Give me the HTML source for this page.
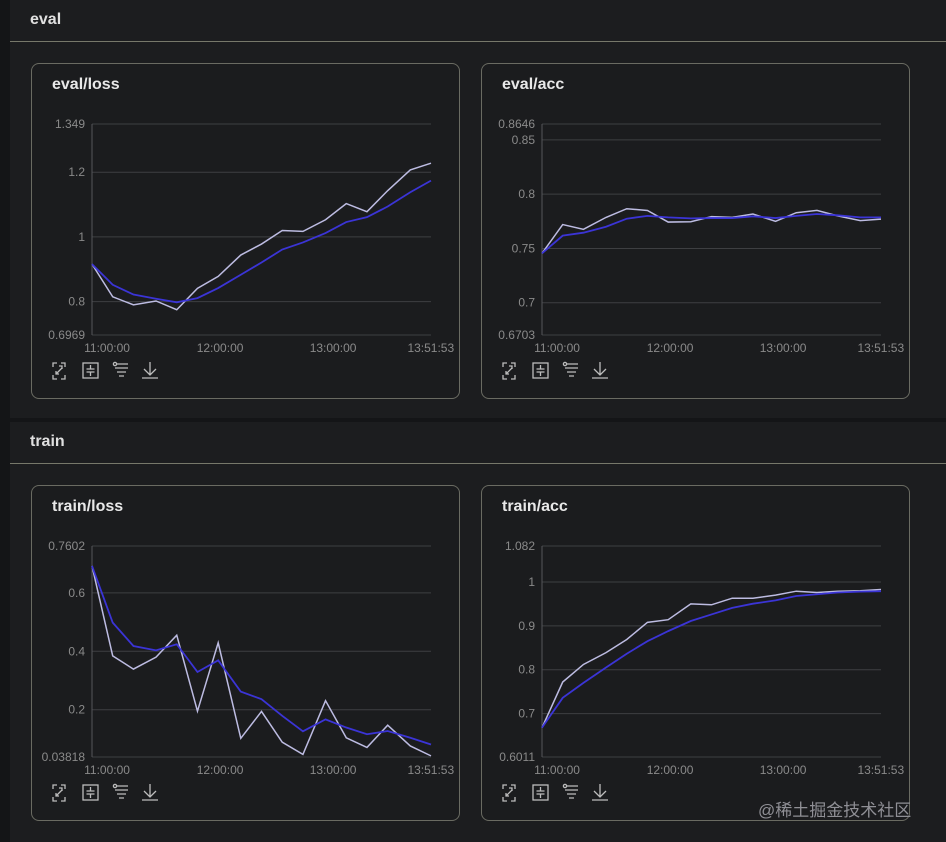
<!DOCTYPE html>
<html><head><meta charset="utf-8">
<style>
html,body{margin:0;padding:0;background:#141517;width:946px;height:842px;overflow:hidden;font-family:"Liberation Sans","Noto Sans CJK SC",sans-serif;}
.section{position:absolute;left:10px;width:936px;background:#1c1d1f;}
.sec-title{position:absolute;left:20px;color:#e0e0e0;font-weight:bold;font-size:16px;}
.sec-line{position:absolute;left:0;width:936px;height:1px;background:#77786a;}
.card{position:absolute;width:427px;height:334px;border:1px solid #6a6b62;border-radius:8px;background:#1b1c1e;}
.card-title{position:absolute;left:20px;top:12px;color:#e8e8e8;font-weight:bold;font-size:16px;}
.card svg{position:absolute;left:0;top:0;}
.wm{position:absolute;left:758px;top:796px;color:#8f8f95;font-size:17px;}
</style></head><body>
<div class="section" style="top:0;height:418px;">
  <div class="sec-title" style="top:11px;">eval</div>
  <div class="sec-line" style="top:41px;"></div>
</div>
<div class="section" style="top:422px;height:420px;">
  <div class="sec-title" style="top:11px;">train</div>
  <div class="sec-line" style="top:41px;"></div>
</div>
<div class="card" id="c1" style="left:31px;top:63px;"><div class="card-title">eval/loss</div></div>
<div class="card" id="c2" style="left:481px;top:63px;"><div class="card-title">eval/acc</div></div>
<div class="card" id="c3" style="left:31px;top:485px;"><div class="card-title">train/loss</div></div>
<div class="card" id="c4" style="left:481px;top:485px;"><div class="card-title">train/acc</div></div>
<div class="wm">@稀土掘金技术社区</div>
<script>
// time of each logged step, minutes relative to 11:00:00
const times = [-8,3,14,26,37,48,59,71,82,93,104,116,127,138,149,161,172];
const xTickMinutes = [0,60,120,171.9];
const xTickLabels = ["11:00:00","12:00:00","13:00:00","13:51:53"];

const evalLossRaw = [0.916,0.815,0.790,0.802,0.775,0.841,0.878,0.944,0.978,1.020,1.017,1.053,1.103,1.078,1.143,1.207,1.228];
const evalLossSmooth = [0.916,0.852,0.822,0.809,0.798,0.811,0.842,0.883,0.921,0.961,0.983,1.012,1.046,1.061,1.094,1.138,1.174];
const evalLossTicks = [1.349,1.2,1,0.8,0.6969];

const evalAccRaw = [0.7455,0.772,0.7676,0.7786,0.7866,0.785,0.7743,0.7746,0.7793,0.7786,0.7817,0.775,0.7829,0.785,0.780,0.7756,0.777];
const evalAccSmooth = [0.7455,0.7618,0.7645,0.770,0.7774,0.780,0.7786,0.7777,0.778,0.778,0.7796,0.778,0.780,0.7817,0.7805,0.7786,0.7786];
const evalAccTicks = [0.8646,0.85,0.8,0.75,0.7,0.6703];

const trainLossRaw = [0.692,0.384,0.339,0.380,0.455,0.195,0.429,0.102,0.194,0.089,0.047,0.231,0.104,0.071,0.147,0.076,0.042];
const trainLossSmooth = [0.692,0.498,0.418,0.403,0.424,0.329,0.369,0.262,0.236,0.179,0.126,0.167,0.139,0.116,0.127,0.104,0.081];
const trainLossTicks = [0.7602,0.6,0.4,0.2,0.03818];

const trainAccRaw = [0.668,0.772,0.812,0.839,0.869,0.908,0.914,0.950,0.948,0.963,0.963,0.970,0.979,0.976,0.979,0.980,0.983];
const trainAccSmooth = [0.668,0.736,0.770,0.805,0.8365,0.865,0.888,0.911,0.926,0.941,0.9505,0.958,0.968,0.972,0.976,0.978,0.979];
const trainAccTicks = [1.082,1,0.9,0.8,0.7,0.6011];

const NS="http://www.w3.org/2000/svg";
function mk(tag,attrs,parent){const e=document.createElementNS(NS,tag);for(const k in attrs)e.setAttribute(k,attrs[k]);parent.appendChild(e);return e;}

function drawChart(cardId, name, raw, smooth, ticks){
  const card=document.getElementById(cardId);
  const svg=mk('svg',{width:427,height:334},card);
  
  
  const L=60,R=399,T=60,B=271;
  const ymax=ticks[0], ymin=ticks[ticks.length-1];
  const tmin=times[0], tmax=times[times.length-1];
  const x=t=>L+(t-tmin)/(tmax-tmin)*(R-L);
  const y=v=>B-(v-ymin)/(ymax-ymin)*(B-T);
  ticks.forEach(v=>{
    const g=mk('line',{x1:L,x2:R,y1:y(v),y2:y(v),stroke:'#3e3f42','stroke-width':1},svg);
    
    
    const tx=mk('text',{x:L-7,y:y(v)+4,fill:'#8a8a8a','font-size':12,'text-anchor':'end','font-family':'Liberation Sans, sans-serif'},svg);
    tx.textContent=String(v);
    
    
  });
  mk('line',{x1:L,x2:L,y1:T,y2:B,stroke:'#55565a','stroke-width':1},svg);
  xTickMinutes.forEach((t,i)=>{
    const tx=mk('text',{x:x(t),y:B+17,fill:'#8a8a8a','font-size':12,'text-anchor':'middle','font-family':'Liberation Sans, sans-serif'},svg);
    tx.textContent=xTickLabels[i];
    
    
  });
  const p1=mk('polyline',{points:raw.map((v,i)=>x(times[i])+','+y(v)).join(' '),fill:'none',stroke:'#bdbce2','stroke-width':1.5},svg);
  
  
  const p2=mk('polyline',{points:smooth.map((v,i)=>x(times[i])+','+y(v)).join(' '),fill:'none',stroke:'#3b34d6','stroke-width':1.8},svg);
  
  
  const ic='#bdbdbd', iy=300;
  const g1=mk('g',{stroke:ic,'stroke-width':1.3,fill:'none'},svg);
  
  
  mk('path',{d:'M21 '+(iy+3)+'v-4h4 M29 '+(iy-1)+'h4v4 M33 '+(iy+11)+'v4h-4 M25 '+(iy+15)+'h-4v-4 M24 '+(iy+10)+'l6-6 M27 '+(iy+2)+'h3v3 M24 '+(iy+7)+'v3h3'},g1);
  const g2=mk('g',{stroke:ic,'stroke-width':1.3,fill:'none'},svg);
  
  
  mk('rect',{x:51,y:iy-1,width:15,height:15},g2);
  mk('path',{d:'M58.5 '+(iy+1)+'v4h-4 M58.5 '+(iy+12)+'v-4h-4 M58.5 '+(iy+5)+'h4 M58.5 '+(iy+8)+'h4'},g2);
  const g3=mk('g',{stroke:ic,'stroke-width':1.3,fill:'none'},svg);
  
  
  mk('circle',{cx:83,cy:iy,r:1.6},g3);
  mk('path',{d:'M85 '+iy+'h11 M83 '+(iy+4)+'h13 M85 '+(iy+8)+'h9 M87 '+(iy+12)+'h5'},g3);
  const g4=mk('g',{stroke:ic,'stroke-width':1.3,fill:'none'},svg);
  
  
  mk('path',{d:'M118 '+(iy-2)+'v12 M112 '+(iy+5)+'l6 6l6-6 M110 '+(iy+14)+'h16'},g4);
}
drawChart('c1','eval-loss',evalLossRaw,evalLossSmooth,evalLossTicks);
drawChart('c2','eval-acc',evalAccRaw,evalAccSmooth,evalAccTicks);
drawChart('c3','train-loss',trainLossRaw,trainLossSmooth,trainLossTicks);
drawChart('c4','train-acc',trainAccRaw,trainAccSmooth,trainAccTicks);
</script>
</body></html>
